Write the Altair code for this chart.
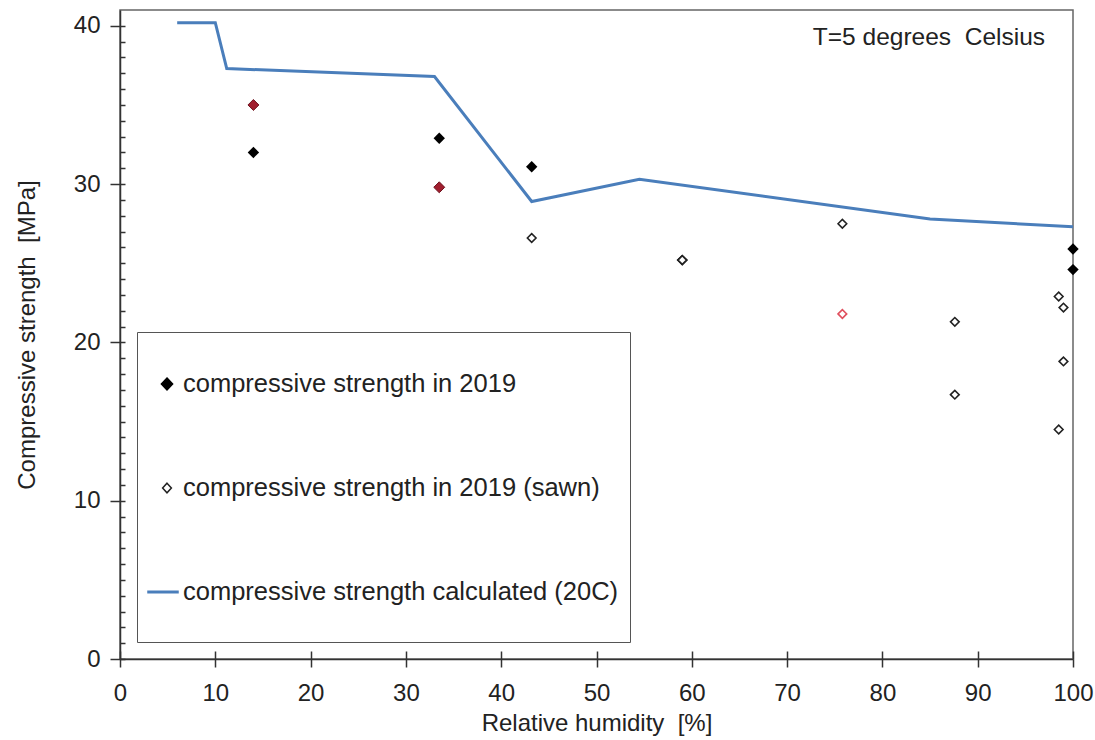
import altair as alt
import pandas as pd

FONT = "Liberation Sans"
INK = "#222222"
NBSP = "\u00a0"

# Calculated compressive strength at 20 C (polyline)
calc_rh = [6, 10, 11.2, 33, 43.2, 54.5, 85, 100]
calc_cs = [40.2, 40.2, 37.3, 36.8, 28.9, 30.3, 27.8, 27.3]

# Compressive strength measured in 2019
solid_rh = [14, 33.5, 43.2, 59, 100, 100]
solid_cs = [32.0, 32.9, 31.1, 25.2, 25.9, 24.6]

# Measured 2019, highlighted specimens
solid_red_rh = [14, 33.5]
solid_red_cs = [35.0, 29.8]

# Compressive strength measured in 2019 on sawn specimens
sawn_rh = [43.2, 59, 75.8, 87.6, 87.6, 98.5, 99.0, 99.0, 98.5]
sawn_cs = [26.6, 25.2, 27.5, 21.3, 16.7, 22.9, 22.2, 18.8, 14.5]

# Sawn, highlighted specimen
sawn_red_rh = [75.8]
sawn_red_cs = [21.8]

series_names = [
    "compressive strength in 2019",
    "compressive strength in 2019 (sawn)",
    "compressive strength calculated (20C)",
]

note_text = ["T=5 degrees" + NBSP + " Celsius"]
note_rh = [72.7]
note_cs = [39.2]

x_title = "Relative humidity" + NBSP + " [%]"
y_title = "Compressive strength" + NBSP + " [MPa]"

x_ticks = list(range(0, 101, 10))
y_major = [0, 10, 20, 30, 40]
y_minor = list(range(0, 41))

calc_df = pd.DataFrame({"rh": calc_rh, "cs": calc_cs})
solid_df = pd.DataFrame({"rh": solid_rh, "cs": solid_cs})
solid_red_df = pd.DataFrame({"rh": solid_red_rh, "cs": solid_red_cs})
sawn_df = pd.DataFrame({"rh": sawn_rh, "cs": sawn_cs})
sawn_red_df = pd.DataFrame({"rh": sawn_red_rh, "cs": sawn_red_cs})
note_df = pd.DataFrame({"rh": note_rh, "cs": note_cs, "txt": note_text})

W, H = 953, 649
xs = alt.Scale(domain=[0, 100], nice=False, zero=False)
ys = alt.Scale(domain=[0, 41], nice=False, zero=False)

BLUE = "#4A7EBB"

# Main axes (outer half of the crossing ticks, labels, titles)
x_main = alt.Axis(values=x_ticks, tickSize=8, labelPadding=14, titlePadding=6,
                  labelFlush=False, format="d", grid=False)
y_main = alt.Axis(values=y_major, tickSize=10, labelPadding=10, titlePadding=34,
                  format="d", grid=False)
# Inner ticks drawn by mirrored axes pulled onto the plot edges
x_inner = alt.Axis(orient="top", offset=-H, values=x_ticks, tickSize=8,
                   labels=False, domain=False, grid=False)
y_inner = alt.Axis(orient="right", offset=-W, values=y_minor, tickSize=5,
                   labels=False, domain=False, grid=False)

line = alt.Chart(calc_df).mark_line(color=BLUE, strokeWidth=3).encode(
    x=alt.X("rh:Q", scale=xs, axis=x_main, title=x_title),
    y=alt.Y("cs:Q", scale=ys, axis=y_main, title=y_title),
)

solid = alt.Chart(solid_df).mark_point(
    shape="diamond", filled=True, color="black", size=130, opacity=1
).encode(
    x=alt.X("rh:Q", scale=xs, axis=x_inner, title=None),
    y=alt.Y("cs:Q", scale=ys, axis=y_inner, title=None),
)

solid_red = alt.Chart(solid_red_df).mark_point(
    shape="diamond", filled=True, fill="#A01E2E", stroke="#6E1420",
    strokeWidth=1, size=120, opacity=1
).encode(
    x=alt.X("rh:Q", scale=xs, axis=None),
    y=alt.Y("cs:Q", scale=ys, axis=None),
)

sawn = alt.Chart(sawn_df).mark_point(
    shape="diamond", filled=True, fill="white", stroke="#222222",
    strokeWidth=1.6, size=75, opacity=1
).encode(
    x=alt.X("rh:Q", scale=xs, axis=None),
    y=alt.Y("cs:Q", scale=ys, axis=None),
)

sawn_red = alt.Chart(sawn_red_df).mark_point(
    shape="diamond", filled=True, fill="white", stroke="#E0505E",
    strokeWidth=1.6, size=75, opacity=1
).encode(
    x=alt.X("rh:Q", scale=xs, axis=None),
    y=alt.Y("cs:Q", scale=ys, axis=None),
)

# Legend symbols: custom paths (unit = sqrt(symbolSize)/2 px); the trailing
# move-to only stretches each entry's box so rows get equal height.
sym_solid = "M-0.55,-0.15L-0.41,0L-0.55,0.15L-0.69,0ZM-0.55,0.9"
sym_sawn = "M-0.55,-0.12L-0.44,0L-0.55,0.12L-0.66,0ZM-0.55,0.9"
sym_line = "M-1.025,-0.02L-0.275,-0.02L-0.275,0.02L-1.025,0.02ZM-0.65,0.9"

legend = alt.Legend(
    title=None, orient="none", legendX=17, legendY=322,
    padding=11, rowPadding=24, labelOffset={"expr": "-47"},
    labelFont=FONT, labelFontSize=25.5, labelColor=INK, labelLimit=900,
    symbolSize=6400, symbolStrokeWidth=1.5, symbolOpacity=1,
    strokeColor="#555555", fillColor="white", cornerRadius=0,
)

key = alt.Chart(alt.Data(values=[])).mark_point(filled=True, opacity=1).encode(
    x=alt.X("rh:Q", scale=xs, axis=None),
    y=alt.Y("cs:Q", scale=ys, axis=None),
    shape=alt.Shape("series:N", scale=alt.Scale(domain=series_names,
                    range=[sym_solid, sym_sawn, sym_line]), legend=legend),
    fill=alt.Fill("series:N", scale=alt.Scale(domain=series_names,
                  range=["black", "white", BLUE]), legend=legend),
    stroke=alt.Stroke("series:N", scale=alt.Scale(domain=series_names,
                      range=["black", "#222222", BLUE]), legend=legend),
)

note = alt.Chart(note_df).mark_text(
    align="left", baseline="middle", font=FONT, fontSize=24.5, color=INK
).encode(
    x=alt.X("rh:Q", scale=xs, axis=None),
    y=alt.Y("cs:Q", scale=ys, axis=None),
    text="txt:N",
)

chart = alt.layer(line, solid, solid_red, sawn, sawn_red, key, note).resolve_axis(
    x="independent", y="independent"
).properties(
    width=W, height=H,
    padding={"left": 120, "top": 10, "right": 22, "bottom": 81},
    autosize=alt.AutoSizeParams(type="none"),
    background="white",
).configure_view(
    stroke="#666666", strokeWidth=1.5
).configure_axis(
    labelFont=FONT, titleFont=FONT, labelFontSize=24, titleFontSize=24,
    titleFontWeight="normal", labelColor=INK, titleColor=INK,
    domainColor="#333333", tickColor="#333333", domainWidth=1.5, tickWidth=1.5,
)

chart.save("out.html", embed_options={"renderer": "svg", "actions": False})
